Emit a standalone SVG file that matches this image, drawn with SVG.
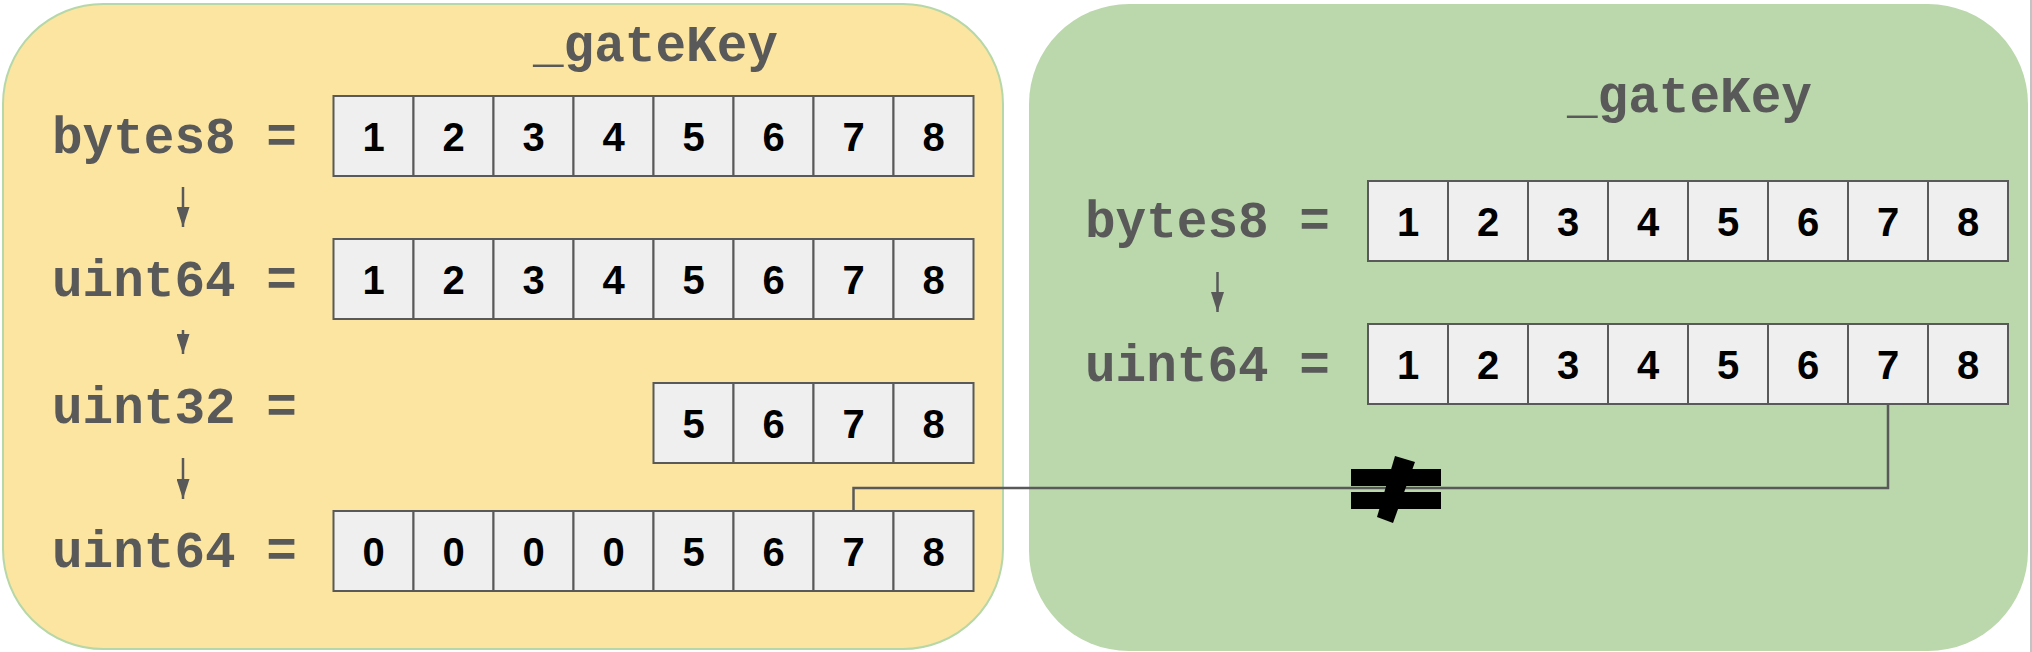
<svg xmlns="http://www.w3.org/2000/svg" width="2032" height="652" viewBox="0 0 2032 652">
<style>
.cell{fill:#efefef;stroke:#595959;stroke-width:2}
.dig{font-family:"Liberation Sans",Arial,sans-serif;font-weight:bold;font-size:40px;fill:#000;text-anchor:middle}
.lbl{font-family:"Liberation Mono","Courier New",monospace;font-weight:bold;font-size:51px;fill:#595959}
.arr{stroke:#595959;stroke-width:2.5;fill:none}
</style>
<defs>
<marker id="ah" markerUnits="userSpaceOnUse" markerWidth="20" markerHeight="13" refX="20" refY="6.5" orient="auto">
<path d="M0,0 L20,6.5 L0,13 z" fill="#595959"/>
</marker>
</defs>
<rect x="0" y="0" width="2032" height="652" fill="#ffffff"/>
<rect x="2030" y="0" width="2" height="652" fill="#c3c3c3"/>

<g id="left-panel">
<rect x="3" y="4" width="1000" height="645" rx="100" ry="100" fill="#fbe5a1" stroke="#b6d7a8" stroke-width="2"/>
<text class="lbl" x="533" y="61">_gateKey</text>
</g>

<g id="right-panel">
<rect x="1029" y="4" width="999" height="647" rx="100" ry="100" fill="#bbd7ac"/>
<text class="lbl" x="1567" y="112">_gateKey</text>
</g>

<g id="left-bytes8">
<text class="lbl" x="52" y="153">bytes8 =</text>
<rect class="cell" x="333.5" y="96" width="80" height="80"/>
<rect class="cell" x="413.5" y="96" width="80" height="80"/>
<rect class="cell" x="493.5" y="96" width="80" height="80"/>
<rect class="cell" x="573.5" y="96" width="80" height="80"/>
<rect class="cell" x="653.5" y="96" width="80" height="80"/>
<rect class="cell" x="733.5" y="96" width="80" height="80"/>
<rect class="cell" x="813.5" y="96" width="80" height="80"/>
<rect class="cell" x="893.5" y="96" width="80" height="80"/>
<text class="dig" x="373.5" y="151">1</text>
<text class="dig" x="453.5" y="151">2</text>
<text class="dig" x="533.5" y="151">3</text>
<text class="dig" x="613.5" y="151">4</text>
<text class="dig" x="693.5" y="151">5</text>
<text class="dig" x="773.5" y="151">6</text>
<text class="dig" x="853.5" y="151">7</text>
<text class="dig" x="933.5" y="151">8</text>
</g>

<g id="left-uint64-a">
<text class="lbl" x="52" y="296">uint64 =</text>
<rect class="cell" x="333.5" y="239" width="80" height="80"/>
<rect class="cell" x="413.5" y="239" width="80" height="80"/>
<rect class="cell" x="493.5" y="239" width="80" height="80"/>
<rect class="cell" x="573.5" y="239" width="80" height="80"/>
<rect class="cell" x="653.5" y="239" width="80" height="80"/>
<rect class="cell" x="733.5" y="239" width="80" height="80"/>
<rect class="cell" x="813.5" y="239" width="80" height="80"/>
<rect class="cell" x="893.5" y="239" width="80" height="80"/>
<text class="dig" x="373.5" y="294">1</text>
<text class="dig" x="453.5" y="294">2</text>
<text class="dig" x="533.5" y="294">3</text>
<text class="dig" x="613.5" y="294">4</text>
<text class="dig" x="693.5" y="294">5</text>
<text class="dig" x="773.5" y="294">6</text>
<text class="dig" x="853.5" y="294">7</text>
<text class="dig" x="933.5" y="294">8</text>
</g>

<g id="left-uint32">
<text class="lbl" x="52" y="423">uint32 =</text>
<rect class="cell" x="653.5" y="383" width="80" height="80"/>
<rect class="cell" x="733.5" y="383" width="80" height="80"/>
<rect class="cell" x="813.5" y="383" width="80" height="80"/>
<rect class="cell" x="893.5" y="383" width="80" height="80"/>
<text class="dig" x="693.5" y="438">5</text>
<text class="dig" x="773.5" y="438">6</text>
<text class="dig" x="853.5" y="438">7</text>
<text class="dig" x="933.5" y="438">8</text>
</g>

<g id="left-uint64-b">
<text class="lbl" x="52" y="567">uint64 =</text>
<rect class="cell" x="333.5" y="511" width="80" height="80"/>
<rect class="cell" x="413.5" y="511" width="80" height="80"/>
<rect class="cell" x="493.5" y="511" width="80" height="80"/>
<rect class="cell" x="573.5" y="511" width="80" height="80"/>
<rect class="cell" x="653.5" y="511" width="80" height="80"/>
<rect class="cell" x="733.5" y="511" width="80" height="80"/>
<rect class="cell" x="813.5" y="511" width="80" height="80"/>
<rect class="cell" x="893.5" y="511" width="80" height="80"/>
<text class="dig" x="373.5" y="566">0</text>
<text class="dig" x="453.5" y="566">0</text>
<text class="dig" x="533.5" y="566">0</text>
<text class="dig" x="613.5" y="566">0</text>
<text class="dig" x="693.5" y="566">5</text>
<text class="dig" x="773.5" y="566">6</text>
<text class="dig" x="853.5" y="566">7</text>
<text class="dig" x="933.5" y="566">8</text>
</g>

<g id="right-bytes8">
<text class="lbl" x="1085" y="237">bytes8 =</text>
<rect class="cell" x="1368" y="181" width="80" height="80"/>
<rect class="cell" x="1448" y="181" width="80" height="80"/>
<rect class="cell" x="1528" y="181" width="80" height="80"/>
<rect class="cell" x="1608" y="181" width="80" height="80"/>
<rect class="cell" x="1688" y="181" width="80" height="80"/>
<rect class="cell" x="1768" y="181" width="80" height="80"/>
<rect class="cell" x="1848" y="181" width="80" height="80"/>
<rect class="cell" x="1928" y="181" width="80" height="80"/>
<text class="dig" x="1408" y="236">1</text>
<text class="dig" x="1488" y="236">2</text>
<text class="dig" x="1568" y="236">3</text>
<text class="dig" x="1648" y="236">4</text>
<text class="dig" x="1728" y="236">5</text>
<text class="dig" x="1808" y="236">6</text>
<text class="dig" x="1888" y="236">7</text>
<text class="dig" x="1968" y="236">8</text>
</g>

<g id="right-uint64">
<text class="lbl" x="1085" y="381">uint64 =</text>
<rect class="cell" x="1368" y="324" width="80" height="80"/>
<rect class="cell" x="1448" y="324" width="80" height="80"/>
<rect class="cell" x="1528" y="324" width="80" height="80"/>
<rect class="cell" x="1608" y="324" width="80" height="80"/>
<rect class="cell" x="1688" y="324" width="80" height="80"/>
<rect class="cell" x="1768" y="324" width="80" height="80"/>
<rect class="cell" x="1848" y="324" width="80" height="80"/>
<rect class="cell" x="1928" y="324" width="80" height="80"/>
<text class="dig" x="1408" y="379">1</text>
<text class="dig" x="1488" y="379">2</text>
<text class="dig" x="1568" y="379">3</text>
<text class="dig" x="1648" y="379">4</text>
<text class="dig" x="1728" y="379">5</text>
<text class="dig" x="1808" y="379">6</text>
<text class="dig" x="1888" y="379">7</text>
<text class="dig" x="1968" y="379">8</text>
</g>

<g id="connectors">
<line class="arr" x1="183" y1="187" x2="183" y2="227" marker-end="url(#ah)"/>
<line class="arr" x1="183" y1="330" x2="183" y2="354" marker-end="url(#ah)"/>
<line class="arr" x1="183" y1="458" x2="183" y2="499" marker-end="url(#ah)"/>
<line class="arr" x1="1217.5" y1="272" x2="1217.5" y2="312" marker-end="url(#ah)"/>
<polyline class="arr" points="853.5,510 853.5,488 1888,488 1888,405"/>
</g>

<g id="not-equal">
<rect x="1351" y="469" width="90" height="17" fill="#000"/>
<rect x="1351" y="492" width="90" height="17" fill="#000"/>
<polygon points="1395,456 1415,462 1393,523 1377,517" fill="#000"/>
</g>
</svg>
